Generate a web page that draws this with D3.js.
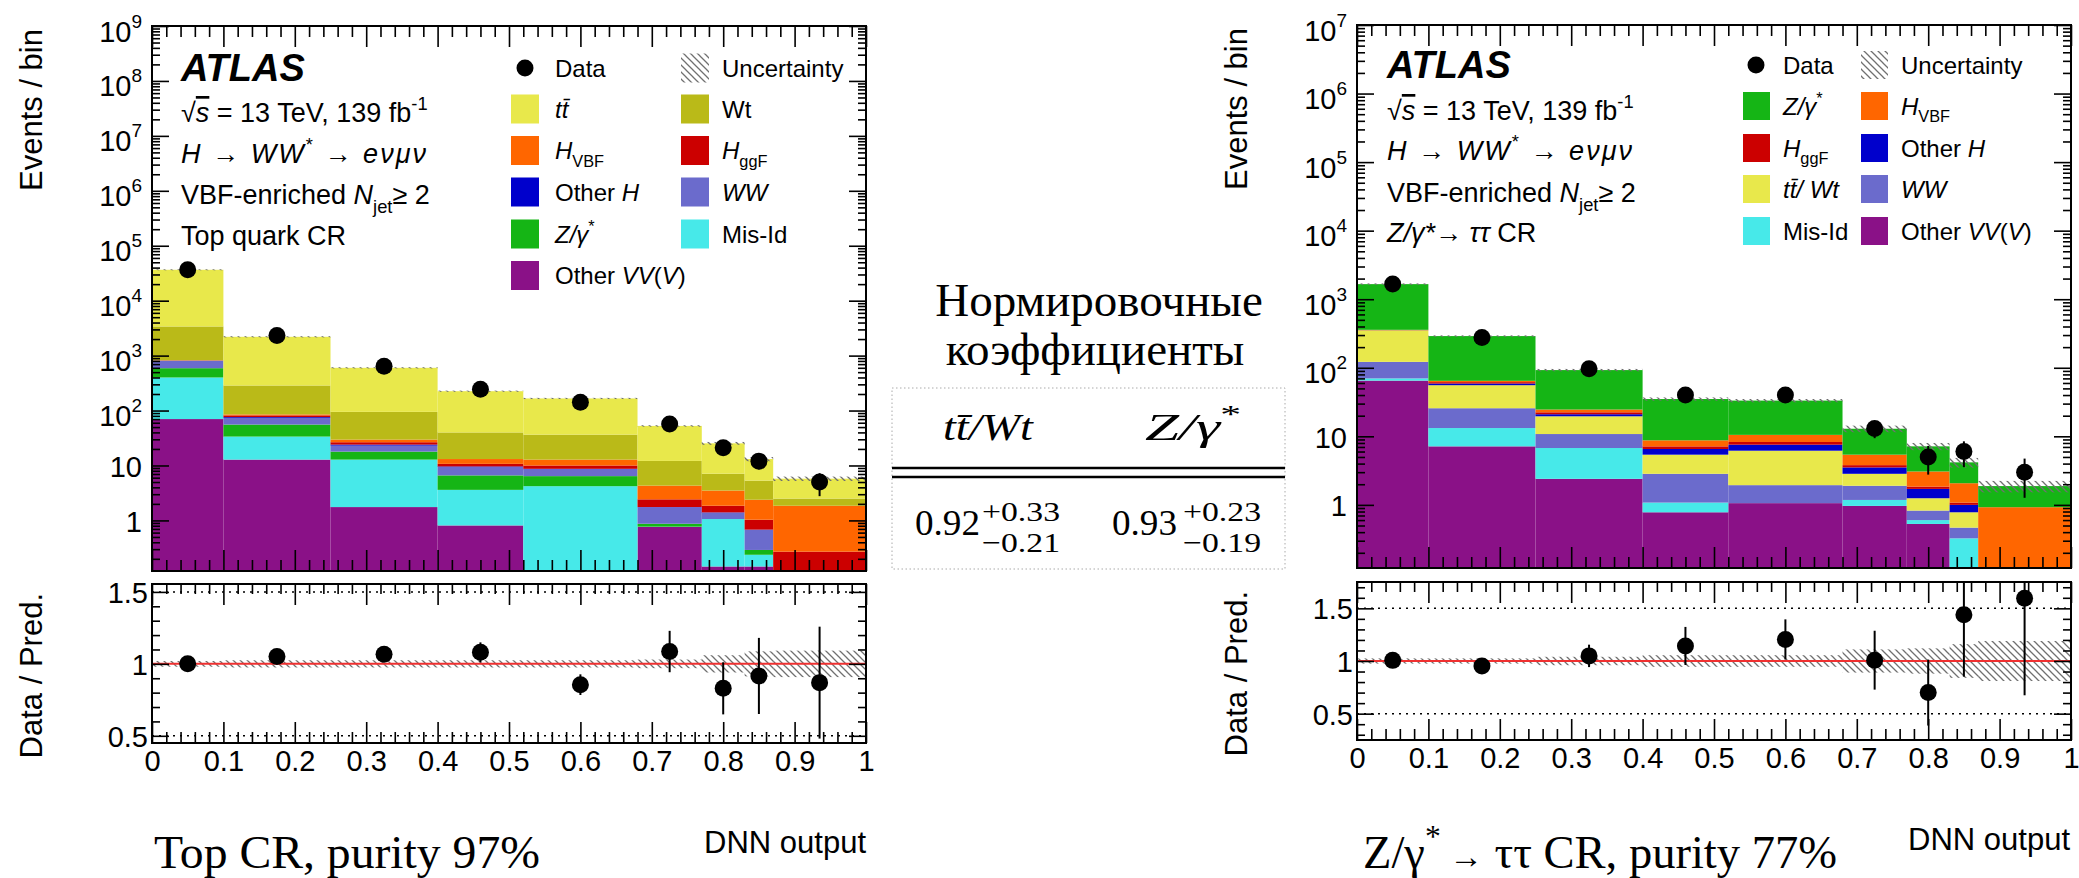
<!DOCTYPE html>
<html>
<head>
<meta charset="utf-8">
<script src="https://cdn.jsdelivr.net/npm/d3@7"></script>
<style>
  html, body { margin: 0; padding: 0; background: #fff; }
  svg { display: block; }
  text { font-family: "Liberation Sans", Arial, Helvetica, sans-serif; fill: #000; }
  .serif, .serif tspan { font-family: "Liberation Serif", "Times New Roman", serif; }
</style>
</head>
<body>
<svg id="chart" width="2079" height="878"></svg>
<script>
// ---- binning of the DNN output ----
const binEdges = [0, 0.1, 0.25, 0.4, 0.52, 0.68, 0.77, 0.83, 0.87, 1.0];

// ---- Top quark CR: expected events per bin, per sample ----
const topOtherVV = [70, 12.8, 1.75, 0.81, 0.05, 0.76, 0.145, 0.145, 0.01];
const topMisId   = [330, 20.8, 11.05, 2.79, 4.15, 0.01, 0.915, 0.092, 0];
const topZjets   = [190, 22, 5.1, 3.0, 2.2, 0.1, 0, 0.053, 0];
const topWW      = [215, 18, 5.1, 2.8, 2.1, 0.86, 0.32, 0.385, 0];
const topOtherH  = [5, 2.5, 1.0, 0.2, 0.2, 0.02, 0.02, 0.005, 0];
const topGgF     = [6, 5.5, 2.5, 1.1, 1.3, 0.67, 0.45, 0.35, 0.26];
const topVBF     = [8, 3.5, 3.1, 2.4, 2.8, 1.88, 1.65, 1.35, 1.58];
const topWt      = [2570, 201, 65, 26.9, 23.7, 7.8, 3.6, 2.92, 0.65];
const topTtbar   = [33100, 1914, 505, 185, 129.5, 40.4, 18.2, 7.8, 3.25];
const topData    = [36500, 2312, 640, 243, 142, 57, 21, 12, 5];
const topUnc     = [0.02, 0.025, 0.025, 0.025, 0.025, 0.03, 0.06, 0.087, 0.092];

// ---- Z/gamma* -> tautau CR: expected events per bin, per sample ----
const ztOtherVV = [65, 7.14, 2.4, 0.78, 1.06, 0.966, 0.527, 0.05, 0.01];
const ztMisId   = [5, 6.06, 4.35, 0.3, 0, 0.214, 0.073, 0.275, 0];
const ztWW      = [52, 12.5, 4.05, 1.76, 0.88, 0.72, 0.226, 0.141, 0];
const ztTopWt   = [230, 30, 8.8, 2.56, 4.23, 0.94, 0.424, 0.314, 0];
const ztOtherH  = [1, 3.2, 1.4, 1.13, 1.38, 0.68, 0.46, 0.22, 0];
const ztGgF     = [2, 2.8, 1.4, 0.61, 0.71, 0.28, 0.14, 0.08, 0];
const ztVBF     = [3, 2.8, 2.2, 1.6, 2.24, 1.6, 1.22, 0.99, 0.915];
const ztZjets   = [1302, 225.5, 67.9, 26.26, 22.7, 7.5, 4.07, 2.1, 0.955];
const ztData    = [1670, 276, 97, 40, 40, 13, 5, 6, 3];
const ztUnc     = [0.025, 0.025, 0.04, 0.055, 0.055, 0.11, 0.12, 0.16, 0.19];

// ---- normalisation factors table ----
const nfNames  = ["ttWt", "Zgamma"];
const nfValues = ["0.92", "0.93"];
const nfUp     = ["+0.33", "+0.23"];
const nfDown   = ["\u22120.21", "\u22120.19"];

// ---- sample colours ----
const colOtherVV = "#8a1187";
const colMisId   = "#47e9e9";
const colZ       = "#15b515";
const colWW      = "#6b6bcc";
const colOtherH  = "#0000cc";
const colGgF     = "#cc0000";
const colVBF     = "#ff6600";
const colWt      = "#baba18";
const colTt      = "#e8e84b";

const yMin = 0.12;
const svg = d3.select("#chart");
const defs = svg.append("defs");

// hatch used for the systematic uncertainty band
const pat = defs.append("pattern").attr("id", "hatch")
  .attr("patternUnits", "userSpaceOnUse").attr("width", 7).attr("height", 7);
pat.append("path").attr("d", "M-1,-1 L8,8 M-1,6 L1,8 M6,-1 L8,1")
  .attr("stroke", "#707070").attr("stroke-width", 1.3).attr("fill", "none");

// text made of plain / italic / sub / superscript pieces
function rich(g, x, y, parts, size, anchor) {
  const t = g.append("text").attr("x", x).attr("y", y).attr("font-size", size);
  if (anchor) t.attr("text-anchor", anchor);
  let shift = 0;
  parts.forEach(p => {
    if (typeof p === "string") p = { t: p };
    let target = 0, fs = size;
    if (p.sub) { target = 0.32 * size; fs = 0.68 * size; }
    if (p.sup) { target = -0.45 * size; fs = 0.68 * size; }
    if (p.fs) fs = p.fs;
    const ts = t.append("tspan").attr("font-size", fs);
    if (target - shift !== 0) ts.attr("dy", target - shift);
    shift = target;
    if (p.it) ts.attr("font-style", "italic");
    if (p.bold) ts.attr("font-weight", "bold");
    if (p.ol) ts.style("text-decoration", "overline");
    if (p.dx) ts.attr("dx", p.dx);
    ts.text(p.t);
  });
  return t;
}

function styleAxis(ax, fontSize) {
  ax.select(".domain").remove();
  ax.attr("font-family", "Liberation Sans, Arial, sans-serif").attr("font-size", fontSize);
  ax.selectAll(".tick line").attr("stroke", "#000").attr("stroke-width", 1.6);
  ax.selectAll(".tick text").attr("fill", "#000");
}

function drawPanel(cfg) {
  const g = svg.append("g");
  const nBins = binEdges.length - 1;
  const x = d3.scaleLinear().domain([0, 1]).range([cfg.x0, cfg.x1]);
  const y = d3.scaleLog().domain([yMin, cfg.yMax]).range([cfg.yBottom, cfg.yTop]).clamp(true);
  const r = d3.scaleLinear().domain(cfg.ratioDomain).range([cfg.rBottom, cfg.rTop]);

  const clipMain = cfg.id + "-main", clipRatio = cfg.id + "-ratio";
  defs.append("clipPath").attr("id", clipMain).append("rect")
    .attr("x", cfg.x0).attr("y", cfg.yTop).attr("width", cfg.x1 - cfg.x0).attr("height", cfg.yBottom - cfg.yTop);
  defs.append("clipPath").attr("id", clipRatio).append("rect")
    .attr("x", cfg.x0).attr("y", cfg.rTop).attr("width", cfg.x1 - cfg.x0).attr("height", cfg.rBottom - cfg.rTop);

  // stacked expectation
  const table = d3.range(nBins).map(i => {
    const o = { bin: i };
    cfg.samples.forEach(s => { o[s.key] = s.values[i]; });
    return o;
  });
  const series = d3.stack().keys(cfg.samples.map(s => s.key))(table);
  const totals = table.map(o => d3.sum(cfg.samples, s => o[s.key]));
  const safe = v => Math.max(v, 1e-4);

  const main = g.append("g").attr("clip-path", `url(#${clipMain})`);
  series.forEach((ser, si) => {
    main.append("g").attr("fill", cfg.samples[si].color)
      .selectAll("rect").data(ser).join("rect")
      .attr("x", (d, i) => x(binEdges[i]))
      .attr("width", (d, i) => x(binEdges[i + 1]) - x(binEdges[i]))
      .attr("y", d => y(safe(d[1])))
      .attr("height", d => Math.max(0, y(safe(d[0])) - y(safe(d[1]))));
  });
  // uncertainty band on the total
  main.append("g").selectAll("rect").data(totals).join("rect")
    .attr("x", (d, i) => x(binEdges[i]))
    .attr("width", (d, i) => x(binEdges[i + 1]) - x(binEdges[i]))
    .attr("y", (d, i) => y(d * (1 + cfg.unc[i])))
    .attr("height", (d, i) => y(d * (1 - cfg.unc[i])) - y(d * (1 + cfg.unc[i])))
    .attr("fill", "url(#hatch)");

  const centers = d3.range(nBins).map(i => (binEdges[i] + binEdges[i + 1]) / 2);
  // data with Poisson errors
  const dataG = main.append("g");
  dataG.selectAll("line").data(cfg.data).join("line")
    .attr("x1", (d, i) => x(centers[i])).attr("x2", (d, i) => x(centers[i]))
    .attr("y1", d => y(d + Math.sqrt(d))).attr("y2", d => y(Math.max(d - Math.sqrt(d), 1e-4)))
    .attr("stroke", "#000").attr("stroke-width", 2);
  dataG.selectAll("circle").data(cfg.data).join("circle")
    .attr("cx", (d, i) => x(centers[i])).attr("cy", d => y(d)).attr("r", 8.5).attr("fill", "#000");

  // ---- main frame axes ----
  const [lo, hi] = [Math.floor(Math.log10(yMin)), Math.round(Math.log10(cfg.yMax))];
  const majors = d3.range(0, hi + 1).map(e => Math.pow(10, e));
  const minors = [];
  for (let e = lo; e < hi; e++) for (let k = 2; k <= 9; k++) {
    const v = k * Math.pow(10, e);
    if (v >= yMin && v <= cfg.yMax) minors.push(v);
  }
  const yl = g.append("g").attr("transform", `translate(${cfg.x0},0)`)
    .call(d3.axisLeft(y).tickValues(majors).tickSizeInner(-17).tickSizeOuter(0).tickPadding(10).tickFormat(() => ""));
  styleAxis(yl, 29);
  yl.selectAll(".tick text").each(function (d) {
    const s = d3.select(this);
    const e = Math.round(Math.log10(d));
    if (e <= 1) { s.attr("dy", 11).text(e === 0 ? "1" : "10"); }
    else {
      s.attr("dy", 15);
      s.append("tspan").text("10");
      s.append("tspan").attr("dy", -14).attr("font-size", 19).text(e);
    }
  });
  styleAxis(g.append("g").attr("transform", `translate(${cfg.x0},0)`)
    .call(d3.axisLeft(y).tickValues(minors).tickSizeInner(-8).tickSizeOuter(0).tickFormat(() => "")), 29);
  styleAxis(g.append("g").attr("transform", `translate(${cfg.x1},0)`)
    .call(d3.axisRight(y).tickValues(majors).tickSizeInner(-17).tickSizeOuter(0).tickFormat(() => "")), 29);
  styleAxis(g.append("g").attr("transform", `translate(${cfg.x1},0)`)
    .call(d3.axisRight(y).tickValues(minors).tickSizeInner(-8).tickSizeOuter(0).tickFormat(() => "")), 29);

  const xMajor = d3.range(0, 11).map(i => i / 10);
  const xMinor = d3.range(0, 51).map(i => i / 50).filter((v, i) => i % 5 !== 0);
  [[cfg.yBottom, d3.axisBottom], [cfg.yTop, d3.axisTop]].forEach(([yy, ax]) => {
    styleAxis(g.append("g").attr("transform", `translate(0,${yy})`)
      .call(ax(x).tickValues(xMajor).tickSizeInner(-21).tickSizeOuter(0).tickFormat(() => "")), 29);
    styleAxis(g.append("g").attr("transform", `translate(0,${yy})`)
      .call(ax(x).tickValues(xMinor).tickSizeInner(-11).tickSizeOuter(0).tickFormat(() => "")), 29);
  });
  g.append("rect").attr("x", cfg.x0).attr("y", cfg.yTop)
    .attr("width", cfg.x1 - cfg.x0).attr("height", cfg.yBottom - cfg.yTop)
    .attr("fill", "none").attr("stroke", "#000").attr("stroke-width", 2);

  // ---- ratio panel ----
  const rg = g.append("g").attr("clip-path", `url(#${clipRatio})`);
  rg.selectAll("rect.band").data(cfg.unc).join("rect").attr("class", "band")
    .attr("x", (d, i) => x(binEdges[i]))
    .attr("width", (d, i) => x(binEdges[i + 1]) - x(binEdges[i]))
    .attr("y", d => r(1 + d)).attr("height", d => r(1 - d) - r(1 + d))
    .attr("fill", "url(#hatch)");
  [0.5, 1.5].forEach(v => {
    rg.append("line").attr("x1", cfg.x0).attr("x2", cfg.x1).attr("y1", r(v)).attr("y2", r(v))
      .attr("stroke", "#000").attr("stroke-width", 1.5).attr("stroke-dasharray", "2,5");
  });
  rg.append("line").attr("x1", cfg.x0).attr("x2", cfg.x1).attr("y1", r(1)).attr("y2", r(1))
    .attr("stroke", "#f03030").attr("stroke-width", 2);
  const ratios = cfg.data.map((d, i) => ({ v: d / totals[i], e: Math.sqrt(d) / totals[i], c: centers[i] }));
  rg.selectAll("line.err").data(ratios).join("line").attr("class", "err")
    .attr("x1", d => x(d.c)).attr("x2", d => x(d.c))
    .attr("y1", d => r(d.v + d.e)).attr("y2", d => r(d.v - d.e))
    .attr("stroke", "#000").attr("stroke-width", 2);
  rg.selectAll("circle").data(ratios).join("circle")
    .attr("cx", d => x(d.c)).attr("cy", d => r(d.v)).attr("r", 8.5).attr("fill", "#000");

  const rMajor = [0.5, 1, 1.5];
  const rMinor = d3.range(0, 21).map(i => i / 10)
    .filter(v => v > cfg.ratioDomain[0] && v < cfg.ratioDomain[1] && Math.abs(v * 2 - Math.round(v * 2)) > 1e-6);
  const rl = g.append("g").attr("transform", `translate(${cfg.x0},0)`)
    .call(d3.axisLeft(r).tickValues(rMajor).tickSizeInner(-17).tickSizeOuter(0).tickPadding(4).tickFormat(d3.format("")));
  styleAxis(rl, 29);
  rl.selectAll(".tick text").attr("dy", 10.5);
  styleAxis(g.append("g").attr("transform", `translate(${cfg.x0},0)`)
    .call(d3.axisLeft(r).tickValues(rMinor).tickSizeInner(-8).tickSizeOuter(0).tickFormat(() => "")), 29);
  styleAxis(g.append("g").attr("transform", `translate(${cfg.x1},0)`)
    .call(d3.axisRight(r).tickValues(rMajor).tickSizeInner(-17).tickSizeOuter(0).tickFormat(() => "")), 29);
  styleAxis(g.append("g").attr("transform", `translate(${cfg.x1},0)`)
    .call(d3.axisRight(r).tickValues(rMinor).tickSizeInner(-8).tickSizeOuter(0).tickFormat(() => "")), 29);
  const xb = g.append("g").attr("transform", `translate(0,${cfg.rBottom})`)
    .call(d3.axisBottom(x).tickValues(xMajor).tickSizeInner(-21).tickSizeOuter(0).tickPadding(7)
      .tickFormat(v => (v === 0 || v === 1) ? String(v) : d3.format(".1f")(v)));
  styleAxis(xb, 29);
  styleAxis(g.append("g").attr("transform", `translate(0,${cfg.rBottom})`)
    .call(d3.axisBottom(x).tickValues(xMinor).tickSizeInner(-11).tickSizeOuter(0).tickFormat(() => "")), 29);
  styleAxis(g.append("g").attr("transform", `translate(0,${cfg.rTop})`)
    .call(d3.axisTop(x).tickValues(xMajor).tickSizeInner(-21).tickSizeOuter(0).tickFormat(() => "")), 29);
  styleAxis(g.append("g").attr("transform", `translate(0,${cfg.rTop})`)
    .call(d3.axisTop(x).tickValues(xMinor).tickSizeInner(-10).tickSizeOuter(0).tickFormat(() => "")), 29);
  g.append("rect").attr("x", cfg.x0).attr("y", cfg.rTop)
    .attr("width", cfg.x1 - cfg.x0).attr("height", cfg.rBottom - cfg.rTop)
    .attr("fill", "none").attr("stroke", "#000").attr("stroke-width", 2);

  // ---- axis titles ----
  g.append("text").attr("transform", `translate(${cfg.titleX},${cfg.yTop + 3}) rotate(-90)`)
    .attr("text-anchor", "end").attr("font-size", 31).text("Events / bin");
  g.append("text").attr("transform", `translate(${cfg.titleX},${cfg.rTop + 9}) rotate(-90)`)
    .attr("text-anchor", "end").attr("font-size", 31).text("Data / Pred.");
  g.append("text").attr("x", cfg.dnnX).attr("y", cfg.dnnY).attr("text-anchor", "end")
    .attr("font-size", 31).text("DNN output");

  // ---- ATLAS label block ----
  rich(g, cfg.infoX, cfg.infoY[0], [{ t: "ATLAS", bold: 1, it: 1 }], 38);
  rich(g, cfg.infoX, cfg.infoY[1], ["\u221A", { t: "s", it: 1, ol: 1 }, " = 13 TeV, 139 fb", { t: "-1", sup: 1 }], 27);
  rich(g, cfg.infoX, cfg.infoY[2], [{ t: "H", it: 1 }, " \u2192 ", { t: "WW", it: 1 }, { t: "*", sup: 1 }, " \u2192 ", { t: "e\u03BD\u03BC\u03BD", it: 1 }], 27)
    .attr("textLength", 245).attr("lengthAdjust", "spacing");
  rich(g, cfg.infoX, cfg.infoY[3], ["VBF-enriched ", { t: "N", it: 1 }, { t: "jet", sub: 1 }, "\u2265 2"], 27);
  rich(g, cfg.infoX, cfg.infoY[4], cfg.regionLabel, 27);

  // ---- legend ----
  const L = cfg.legend;
  L.entries.forEach((en, k) => {
    const col = k % 2, row = Math.floor(k / 2);
    const cy = L.rows[row];
    const bx = col === 0 ? L.box1 : L.box2;
    const tx = col === 0 ? L.text1 : L.text2;
    if (en.kind === "data") {
      g.append("circle").attr("cx", L.dot).attr("cy", cy).attr("r", 8.5).attr("fill", "#000");
    } else if (en.kind === "unc") {
      g.append("rect").attr("x", bx).attr("y", cy - L.h / 2).attr("width", L.w).attr("height", L.h).attr("fill", "url(#hatch)");
    } else if (en.kind === "box") {
      g.append("rect").attr("x", bx).attr("y", cy - L.h / 2).attr("width", L.w).attr("height", L.h).attr("fill", en.color);
    }
    if (en.label) rich(g, tx, cy + 8.5, en.label, 24);
  });
}

const ttbarLabel = [{ t: "t", it: 1 }, { t: "t\u0304", it: 1 }];

drawPanel({
  id: "topcr", x0: 152, x1: 866, yTop: 26, yBottom: 571, yMax: 1e9,
  rTop: 584, rBottom: 743, ratioDomain: [0.45, 1.555],
  titleX: 42, dnnX: 866, dnnY: 853,
  samples: [
    { key: "otherVV", values: topOtherVV, color: colOtherVV },
    { key: "misId", values: topMisId, color: colMisId },
    { key: "zjets", values: topZjets, color: colZ },
    { key: "ww", values: topWW, color: colWW },
    { key: "otherH", values: topOtherH, color: colOtherH },
    { key: "ggF", values: topGgF, color: colGgF },
    { key: "vbf", values: topVBF, color: colVBF },
    { key: "wt", values: topWt, color: colWt },
    { key: "ttbar", values: topTtbar, color: colTt }
  ],
  data: topData, unc: topUnc,
  infoX: 181, infoY: [81, 122, 163, 204, 245],
  regionLabel: ["Top quark CR"],
  legend: {
    dot: 525, box1: 511, text1: 555, box2: 681, text2: 722, w: 28, h: 29,
    rows: [68, 109, 150.5, 192, 234, 275.5],
    entries: [
      { kind: "data", label: ["Data"] }, { kind: "unc", label: ["Uncertainty"] },
      { kind: "box", color: colTt, label: ttbarLabel }, { kind: "box", color: colWt, label: ["Wt"] },
      { kind: "box", color: colVBF, label: [{ t: "H", it: 1 }, { t: "VBF", sub: 1 }] },
      { kind: "box", color: colGgF, label: [{ t: "H", it: 1 }, { t: "ggF", sub: 1 }] },
      { kind: "box", color: colOtherH, label: ["Other ", { t: "H", it: 1 }] },
      { kind: "box", color: colWW, label: [{ t: "WW", it: 1 }] },
      { kind: "box", color: colZ, label: [{ t: "Z/\u03B3", it: 1 }, { t: "*", sup: 1 }] },
      { kind: "box", color: colMisId, label: ["Mis-Id"] },
      { kind: "box", color: colOtherVV, label: ["Other ", { t: "VV", it: 1 }, "(", { t: "V", it: 1 }, ")"] }
    ]
  }
});

drawPanel({
  id: "ztautau", x0: 1357, x1: 2071, yTop: 25, yBottom: 568, yMax: 1e7,
  rTop: 582, rBottom: 740, ratioDomain: [0.25, 1.75],
  titleX: 1247, dnnX: 2070, dnnY: 850,
  samples: [
    { key: "otherVV", values: ztOtherVV, color: colOtherVV },
    { key: "misId", values: ztMisId, color: colMisId },
    { key: "ww", values: ztWW, color: colWW },
    { key: "topWt", values: ztTopWt, color: colTt },
    { key: "otherH", values: ztOtherH, color: colOtherH },
    { key: "ggF", values: ztGgF, color: colGgF },
    { key: "vbf", values: ztVBF, color: colVBF },
    { key: "zjets", values: ztZjets, color: colZ }
  ],
  data: ztData, unc: ztUnc,
  infoX: 1387, infoY: [78, 120, 160, 202, 242],
  regionLabel: [{ t: "Z/\u03B3", it: 1 }, { t: "*", it: 1 }, "\u2192 ", { t: "\u03C4\u03C4", it: 1 }, " CR"],
  legend: {
    dot: 1756, box1: 1743, text1: 1783, box2: 1861, text2: 1901, w: 27, h: 28,
    rows: [65, 106, 148, 189, 231],
    entries: [
      { kind: "data", label: ["Data"] }, { kind: "unc", label: ["Uncertainty"] },
      { kind: "box", color: colZ, label: [{ t: "Z/\u03B3", it: 1 }, { t: "*", sup: 1 }] },
      { kind: "box", color: colVBF, label: [{ t: "H", it: 1 }, { t: "VBF", sub: 1 }] },
      { kind: "box", color: colGgF, label: [{ t: "H", it: 1 }, { t: "ggF", sub: 1 }] },
      { kind: "box", color: colOtherH, label: ["Other ", { t: "H", it: 1 }] },
      { kind: "box", color: colTt, label: [{ t: "t", it: 1 }, { t: "t\u0304", it: 1 }, { t: "/ Wt", it: 1 }] },
      { kind: "box", color: colWW, label: [{ t: "WW", it: 1 }] },
      { kind: "box", color: colMisId, label: ["Mis-Id"] },
      { kind: "box", color: colOtherVV, label: ["Other ", { t: "VV", it: 1 }, "(", { t: "V", it: 1 }, ")"] }
    ]
  }
});

// ---- region captions under the plots ----
const cap = svg.append("g");
rich(cap, 154, 868, ["Top CR, purity 97%"], 47).attr("class", "serif")
  .attr("textLength", 386).attr("lengthAdjust", "spacingAndGlyphs");
rich(cap, 1363, 868, ["Z/\u03B3", { t: "*", sup: 1 }, { t: " \u2192", fs: 34 }, " \u03C4\u03C4 CR, purity 77%"], 47).attr("class", "serif")
  .attr("textLength", 474).attr("lengthAdjust", "spacingAndGlyphs");

// ---- normalisation factors ----
const nf = svg.append("g");
nf.append("text").attr("class", "serif").attr("x", 1099).attr("y", 316).attr("text-anchor", "middle")
  .attr("font-size", 47).text("Нормировочные");
nf.append("text").attr("class", "serif").attr("x", 1095).attr("y", 365).attr("text-anchor", "middle")
  .attr("font-size", 47).text("коэффициенты");
nf.append("rect").attr("x", 892).attr("y", 388).attr("width", 393).attr("height", 181)
  .attr("fill", "none").attr("stroke", "#aaa").attr("stroke-width", 1).attr("stroke-dasharray", "1.5,2.5");
[468, 477].forEach(yy => nf.append("line").attr("x1", 892).attr("x2", 1285).attr("y1", yy).attr("y2", yy)
  .attr("stroke", "#000").attr("stroke-width", 2.5));
const headX = [988, 1193], headW = [90, 96];
const headParts = {
  ttWt: [{ t: "t", it: 1 }, { t: "t\u0304", it: 1 }, { t: "/", it: 1 }, { t: "Wt", it: 1 }],
  Zgamma: [{ t: "Z", it: 1 }, { t: "/", it: 1 }, { t: "\u03B3", it: 1 }, { t: "*", sup: 1 }]
};
nfNames.forEach((n, i) => rich(nf, headX[i], 440, headParts[n], 38, "middle").attr("class", "serif")
  .attr("textLength", headW[i]).attr("lengthAdjust", "spacingAndGlyphs"));
const valX = [915, 1112], scriptX = [982, 1183];
nfValues.forEach((v, i) => {
  nf.append("text").attr("class", "serif").attr("x", valX[i]).attr("y", 535).attr("font-size", 36)
    .attr("textLength", 65).attr("lengthAdjust", "spacingAndGlyphs").text(v);
  nf.append("text").attr("class", "serif").attr("x", scriptX[i]).attr("y", 521).attr("font-size", 28)
    .attr("textLength", 78).attr("lengthAdjust", "spacingAndGlyphs").text(nfUp[i]);
  nf.append("text").attr("class", "serif").attr("x", scriptX[i]).attr("y", 552).attr("font-size", 28)
    .attr("textLength", 78).attr("lengthAdjust", "spacingAndGlyphs").text(nfDown[i]);
});
</script>
</body>
</html>
